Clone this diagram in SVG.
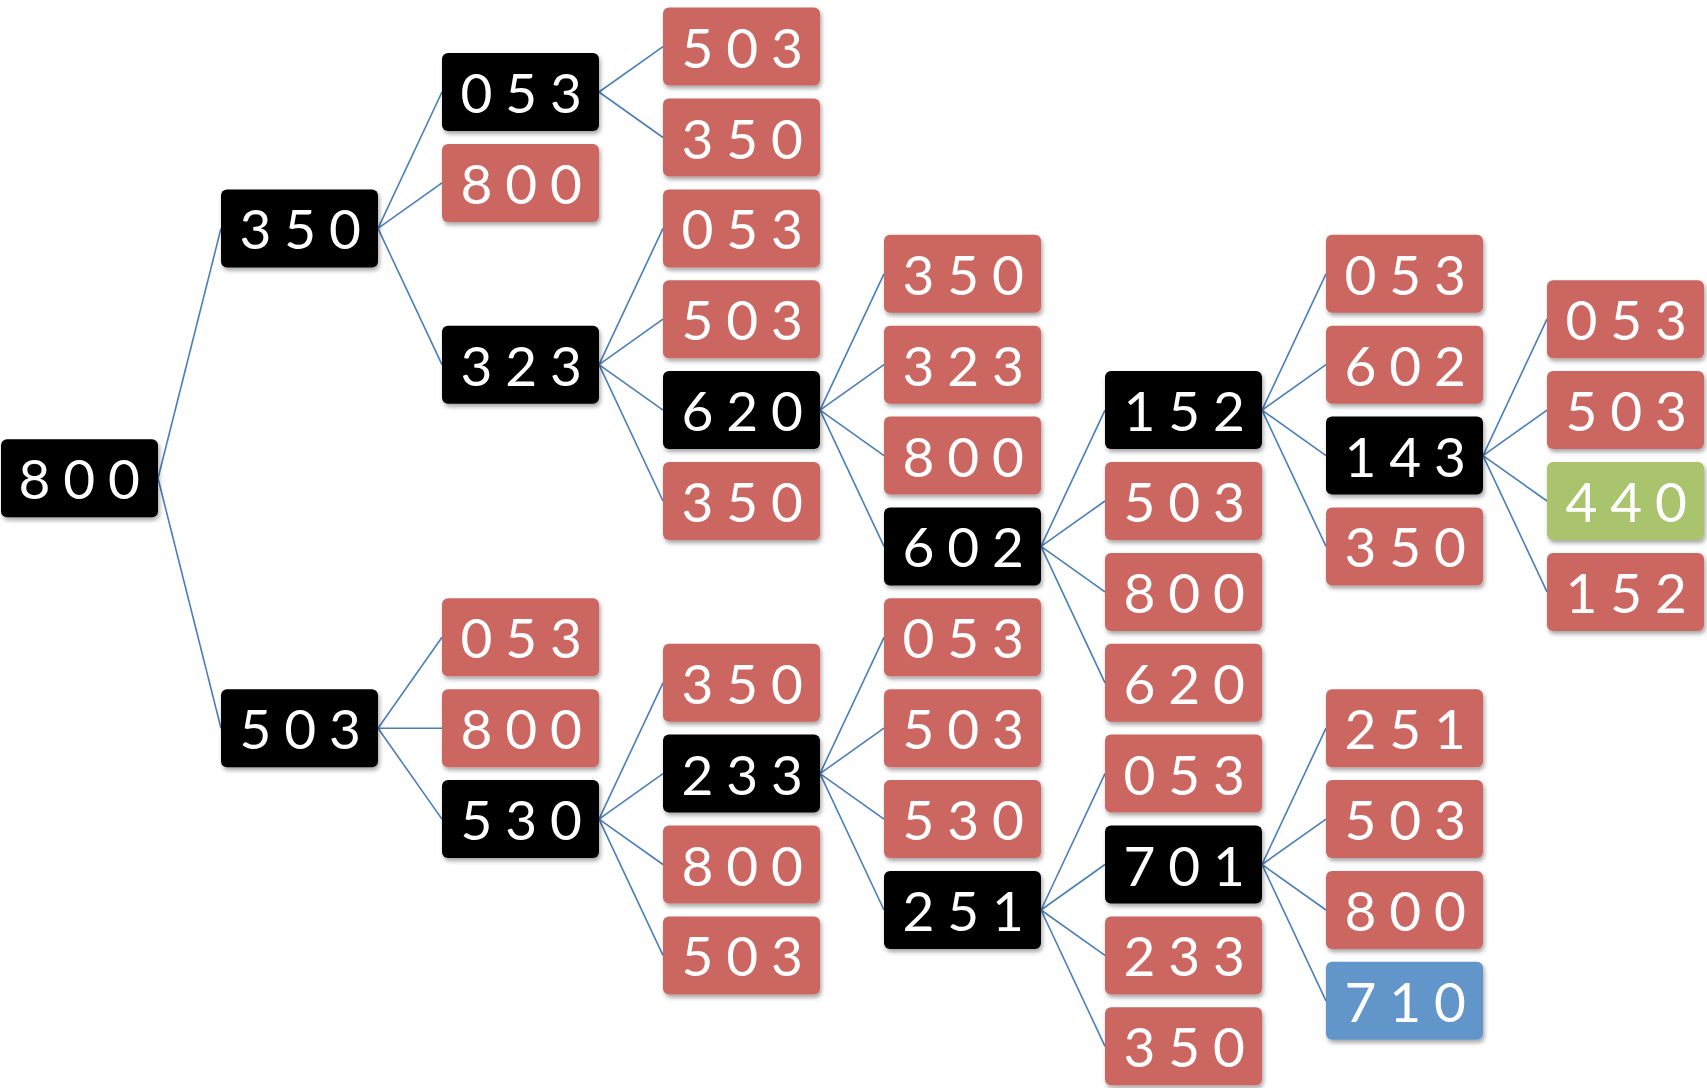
<svg xmlns="http://www.w3.org/2000/svg" width="1707" height="1088" viewBox="0 0 1707 1088">
<style>
.n rect{width:157px;height:78px;rx:6px;ry:6px;filter:url(#sh)}
.b rect{fill:#000}
.r rect{fill:#CC6660}
.g rect{fill:#A9C46C}
.u rect{fill:#6295C9}
.n text{font-family:Lato,"Open Sans","DejaVu Sans",sans-serif;font-size:55px;fill:#fff;text-anchor:middle;letter-spacing:-0.6px}
#edges line{stroke:#4A7EBB;stroke-width:1.6}
</style>
<defs>
<filter id="sh" x="-10%" y="-10%" width="125%" height="135%">
<feDropShadow dx="1.5" dy="3" stdDeviation="2" flood-color="#000" flood-opacity="0.35"/>
</filter>
</defs>
<rect width="1707" height="1088" fill="#fff"/>
<g id="edges">
<line x1="158" y1="478.3" x2="221" y2="228.4"/>
<line x1="158" y1="478.3" x2="221" y2="728.2"/>
<line x1="378" y1="228.4" x2="442" y2="92"/>
<line x1="378" y1="228.4" x2="442" y2="182.9"/>
<line x1="378" y1="228.4" x2="442" y2="364.7"/>
<line x1="599" y1="92" x2="663" y2="46.6"/>
<line x1="599" y1="92" x2="663" y2="137.5"/>
<line x1="599" y1="364.7" x2="663" y2="228.4"/>
<line x1="599" y1="364.7" x2="663" y2="319.2"/>
<line x1="599" y1="364.7" x2="663" y2="410.1"/>
<line x1="599" y1="364.7" x2="663" y2="501"/>
<line x1="378" y1="728.2" x2="442" y2="637.3"/>
<line x1="378" y1="728.2" x2="442" y2="728.2"/>
<line x1="378" y1="728.2" x2="442" y2="819.1"/>
<line x1="599" y1="819.1" x2="663" y2="682.8"/>
<line x1="599" y1="819.1" x2="663" y2="773.6"/>
<line x1="599" y1="819.1" x2="663" y2="864.5"/>
<line x1="599" y1="819.1" x2="663" y2="955.4"/>
<line x1="820" y1="410.1" x2="884" y2="273.8"/>
<line x1="820" y1="410.1" x2="884" y2="364.7"/>
<line x1="820" y1="410.1" x2="884" y2="455.6"/>
<line x1="820" y1="410.1" x2="884" y2="546.4"/>
<line x1="820" y1="773.6" x2="884" y2="637.3"/>
<line x1="820" y1="773.6" x2="884" y2="728.2"/>
<line x1="820" y1="773.6" x2="884" y2="819.1"/>
<line x1="820" y1="773.6" x2="884" y2="910"/>
<line x1="1041" y1="546.4" x2="1105" y2="410.1"/>
<line x1="1041" y1="546.4" x2="1105" y2="501"/>
<line x1="1041" y1="546.4" x2="1105" y2="591.9"/>
<line x1="1041" y1="546.4" x2="1105" y2="682.8"/>
<line x1="1041" y1="910" x2="1105" y2="773.6"/>
<line x1="1041" y1="910" x2="1105" y2="864.5"/>
<line x1="1041" y1="910" x2="1105" y2="955.4"/>
<line x1="1041" y1="910" x2="1105" y2="1046.3"/>
<line x1="1262" y1="410.1" x2="1326" y2="273.8"/>
<line x1="1262" y1="410.1" x2="1326" y2="364.7"/>
<line x1="1262" y1="410.1" x2="1326" y2="455.6"/>
<line x1="1262" y1="410.1" x2="1326" y2="546.4"/>
<line x1="1262" y1="864.5" x2="1326" y2="728.2"/>
<line x1="1262" y1="864.5" x2="1326" y2="819.1"/>
<line x1="1262" y1="864.5" x2="1326" y2="910"/>
<line x1="1262" y1="864.5" x2="1326" y2="1000.8"/>
<line x1="1483" y1="455.6" x2="1547" y2="319.2"/>
<line x1="1483" y1="455.6" x2="1547" y2="410.1"/>
<line x1="1483" y1="455.6" x2="1547" y2="501"/>
<line x1="1483" y1="455.6" x2="1547" y2="591.9"/>
</g>
<g id="n0" class="n b" transform="translate(1,439.3)"><rect/><text x="78" y="60">8 0 0</text></g>
<g id="n1" class="n b" transform="translate(221,189.4)"><rect/><text x="79" y="60">3 5 0</text></g>
<g id="n2" class="n b" transform="translate(221,689.2)"><rect/><text x="79" y="60">5 0 3</text></g>
<g id="n3" class="n b" transform="translate(442,53)"><rect/><text x="79" y="60">0 5 3</text></g>
<g id="n4" class="n r" transform="translate(442,143.9)"><rect/><text x="79" y="60">8 0 0</text></g>
<g id="n5" class="n b" transform="translate(442,325.7)"><rect/><text x="79" y="60">3 2 3</text></g>
<g id="n6" class="n r" transform="translate(442,598.3)"><rect/><text x="79" y="60">0 5 3</text></g>
<g id="n7" class="n r" transform="translate(442,689.2)"><rect/><text x="79" y="60">8 0 0</text></g>
<g id="n8" class="n b" transform="translate(442,780.1)"><rect/><text x="79" y="60">5 3 0</text></g>
<g id="n9" class="n r" transform="translate(663,7.6)"><rect/><text x="79" y="60">5 0 3</text></g>
<g id="n10" class="n r" transform="translate(663,98.5)"><rect/><text x="79" y="60">3 5 0</text></g>
<g id="n11" class="n r" transform="translate(663,189.4)"><rect/><text x="79" y="60">0 5 3</text></g>
<g id="n12" class="n r" transform="translate(663,280.2)"><rect/><text x="79" y="60">5 0 3</text></g>
<g id="n13" class="n b" transform="translate(663,371.1)"><rect/><text x="79" y="60">6 2 0</text></g>
<g id="n14" class="n r" transform="translate(663,462)"><rect/><text x="79" y="60">3 5 0</text></g>
<g id="n15" class="n r" transform="translate(663,643.8)"><rect/><text x="79" y="60">3 5 0</text></g>
<g id="n16" class="n b" transform="translate(663,734.6)"><rect/><text x="79" y="60">2 3 3</text></g>
<g id="n17" class="n r" transform="translate(663,825.5)"><rect/><text x="79" y="60">8 0 0</text></g>
<g id="n18" class="n r" transform="translate(663,916.4)"><rect/><text x="79" y="60">5 0 3</text></g>
<g id="n19" class="n r" transform="translate(884,234.8)"><rect/><text x="79" y="60">3 5 0</text></g>
<g id="n20" class="n r" transform="translate(884,325.7)"><rect/><text x="79" y="60">3 2 3</text></g>
<g id="n21" class="n r" transform="translate(884,416.6)"><rect/><text x="79" y="60">8 0 0</text></g>
<g id="n22" class="n b" transform="translate(884,507.4)"><rect/><text x="79" y="60">6 0 2</text></g>
<g id="n23" class="n r" transform="translate(884,598.3)"><rect/><text x="79" y="60">0 5 3</text></g>
<g id="n24" class="n r" transform="translate(884,689.2)"><rect/><text x="79" y="60">5 0 3</text></g>
<g id="n25" class="n r" transform="translate(884,780.1)"><rect/><text x="79" y="60">5 3 0</text></g>
<g id="n26" class="n b" transform="translate(884,871)"><rect/><text x="79" y="60">2 5 1</text></g>
<g id="n27" class="n b" transform="translate(1105,371.1)"><rect/><text x="79" y="60">1 5 2</text></g>
<g id="n28" class="n r" transform="translate(1105,462)"><rect/><text x="79" y="60">5 0 3</text></g>
<g id="n29" class="n r" transform="translate(1105,552.9)"><rect/><text x="79" y="60">8 0 0</text></g>
<g id="n30" class="n r" transform="translate(1105,643.8)"><rect/><text x="79" y="60">6 2 0</text></g>
<g id="n31" class="n r" transform="translate(1105,734.6)"><rect/><text x="79" y="60">0 5 3</text></g>
<g id="n32" class="n b" transform="translate(1105,825.5)"><rect/><text x="79" y="60">7 0 1</text></g>
<g id="n33" class="n r" transform="translate(1105,916.4)"><rect/><text x="79" y="60">2 3 3</text></g>
<g id="n34" class="n r" transform="translate(1105,1007.3)"><rect/><text x="79" y="60">3 5 0</text></g>
<g id="n35" class="n r" transform="translate(1326,234.8)"><rect/><text x="79" y="60">0 5 3</text></g>
<g id="n36" class="n r" transform="translate(1326,325.7)"><rect/><text x="79" y="60">6 0 2</text></g>
<g id="n37" class="n b" transform="translate(1326,416.6)"><rect/><text x="79" y="60">1 4 3</text></g>
<g id="n38" class="n r" transform="translate(1326,507.4)"><rect/><text x="79" y="60">3 5 0</text></g>
<g id="n39" class="n r" transform="translate(1326,689.2)"><rect/><text x="79" y="60">2 5 1</text></g>
<g id="n40" class="n r" transform="translate(1326,780.1)"><rect/><text x="79" y="60">5 0 3</text></g>
<g id="n41" class="n r" transform="translate(1326,871)"><rect/><text x="79" y="60">8 0 0</text></g>
<g id="n42" class="n u" transform="translate(1326,961.8)"><rect/><text x="79" y="60">7 1 0</text></g>
<g id="n43" class="n r" transform="translate(1547,280.2)"><rect/><text x="79" y="60">0 5 3</text></g>
<g id="n44" class="n r" transform="translate(1547,371.1)"><rect/><text x="79" y="60">5 0 3</text></g>
<g id="n45" class="n g" transform="translate(1547,462)"><rect/><text x="79" y="60">4 4 0</text></g>
<g id="n46" class="n r" transform="translate(1547,552.9)"><rect/><text x="79" y="60">1 5 2</text></g>
</svg>
